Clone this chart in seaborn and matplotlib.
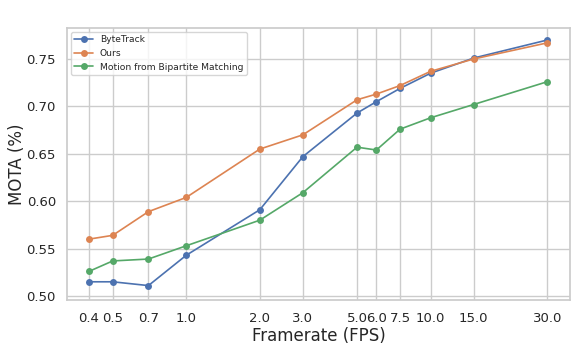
import matplotlib
matplotlib.use("Agg")
import matplotlib.pyplot as plt
import seaborn as sns
import pandas as pd
import numpy as np

fps = [0.4, 0.5, 0.7, 1.0, 2.0, 3.0, 5.0, 6.0, 7.5, 10.0, 15.0, 30.0]
bytetrack = [0.515, 0.515, 0.511, 0.543, 0.591, 0.647, 0.693, 0.705, 0.719, 0.735, 0.751, 0.770]
ours = [0.560, 0.564, 0.589, 0.604, 0.655, 0.670, 0.707, 0.713, 0.722, 0.737, 0.750, 0.767]
motion = [0.526, 0.537, 0.539, 0.553, 0.580, 0.609, 0.657, 0.654, 0.676, 0.688, 0.702, 0.726]
names = ["ByteTrack", "Ours", "Motion from Bipartite Matching"]
tick_labels = [f"{v:.1f}" for v in fps]

rows = []
for name, vals in zip(names, [bytetrack, ours, motion]):
    for f, v in zip(fps, vals):
        rows.append({"fps": f, "mota": v, "method": name})
df = pd.DataFrame(rows)

sns.set_theme(style="whitegrid")
fig = plt.figure(figsize=(5.81, 3.49), dpi=100)
ax = fig.add_axes([67/581, 1-300/349, (570-67)/581, (300-28)/349])
sns.lineplot(data=df, x="fps", y="mota", hue="method", marker="o",
             markersize=5, markeredgewidth=0, linewidth=1.2, ax=ax,
             palette=sns.color_palette("deep", 3))
ax.set_xscale("log")
ax.set_xticks(fps)
ax.set_xticklabels(tick_labels)
ax.minorticks_off()
ax.set_xlim(0.325, 37.2)
ax.set_ylim(0.4958, 0.7827)
ax.set_yticks([0.50, 0.55, 0.60, 0.65, 0.70, 0.75])
ax.set_yticklabels(["0.50", "0.55", "0.60", "0.65", "0.70", "0.75"])
ax.tick_params(axis="x", labelsize=9.5, pad=3)
ax.tick_params(axis="y", labelsize=9.5, pad=2)
ax.set_xlabel("Framerate (FPS)", fontsize=12, labelpad=1)
ax.set_ylabel("MOTA (%)", fontsize=12, labelpad=0)
ax.legend(loc="upper left", fontsize=6.6, title=None, handlelength=2.0,
          borderaxespad=0.4, labelspacing=0.5)
fig.savefig("out.png", dpi=100)
